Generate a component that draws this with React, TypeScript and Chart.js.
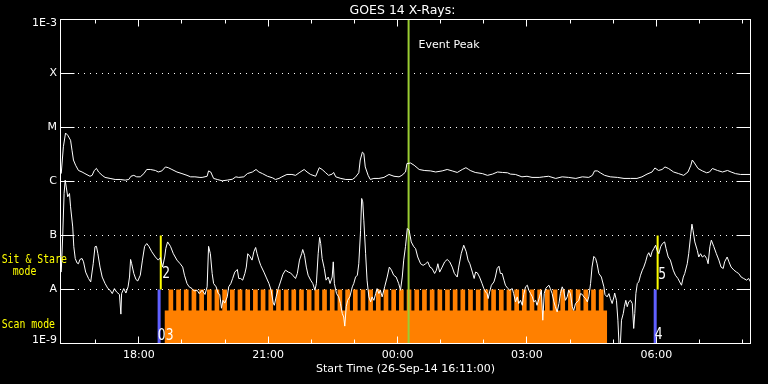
import React, { useEffect, useRef } from "react";
import { Chart, registerables } from "chart.js";

Chart.register(...registerables);

const chartTitle = "GOES 14 X-Rays:";
const xAxisTitle = "Start Time (26-Sep-14 16:11:00)";

// minutes after 16:11:00 UT, 26-Sep-14
const longMinutes = [
  1, 4, 7, 10, 14, 16, 18, 21, 25, 30,
  34, 41, 44, 47, 50, 53, 58, 62, 69, 76,
  83, 90, 95, 98, 102, 106, 111, 116, 120, 125,
  132, 136, 141, 146, 150, 155, 162, 169, 176, 181,
  187, 194,
  197, 204, 206, 209, 213, 218, 225, 232, 239, 244,
  248, 255, 260, 267, 272, 276, 281, 288, 295, 299,
  304, 308, 315, 322, 327, 332, 339, 343, 348, 355,
  360, 364, 369, 373, 378, 380,
  383, 390, 397, 406, 410, 415, 417, 420, 422, 424,
  428, 431, 436, 443, 450, 457, 464, 471, 475, 480,
  482, 487, 492, 499, 506, 515, 522, 531, 538, 545,
  552, 559, 564, 568,
  570, 577, 587, 594, 601, 608, 615, 622, 626, 633,
  642, 649, 656, 666, 672, 679, 689, 698, 707, 717,
  726, 735, 740, 743, 747, 751, 757,
  765, 775, 784, 793, 802, 809, 816, 823, 827, 832,
  837, 841, 846, 853, 860, 867, 873, 877, 879, 882,
  887, 893, 899, 903, 907, 914, 921, 928, 933, 939,
  946, 960,
];
// 1-8 Angstrom flux, W/m^2
const longFlux = [
  1.4e-6, 4.4e-6, 7.9e-6, 7.2e-6, 5.8e-6, 3.8e-6, 2.5e-6, 2.0e-6, 1.6e-6, 1.5e-6,
  1.4e-6, 1.25e-6, 1.3e-6, 1.6e-6, 1.75e-6, 1.5e-6, 1.3e-6, 1.19e-6, 1.14e-6, 1.09e-6,
  1.09e-6, 1.06e-6, 1.09e-6, 1.25e-6, 1.3e-6, 1.22e-6, 1.22e-6, 1.4e-6, 1.67e-6, 1.67e-6,
  1.6e-6, 1.5e-6, 1.57e-6, 1.86e-6, 1.8e-6, 1.67e-6, 1.5e-6, 1.4e-6, 1.3e-6, 1.22e-6,
  1.22e-6, 1.19e-6,
  1.19e-6, 1.25e-6, 1.57e-6, 1.5e-6, 1.14e-6, 1.09e-6, 1.03e-6, 1.06e-6, 1.1e-6, 1.22e-6,
  1.19e-6, 1.22e-6, 1.4e-6, 1.5e-6, 1.67e-6, 1.5e-6, 1.4e-6, 1.25e-6, 1.17e-6, 1.09e-6,
  1.14e-6, 1.22e-6, 1.35e-6, 1.35e-6, 1.3e-6, 1.45e-6, 1.67e-6, 1.5e-6, 1.35e-6, 1.25e-6,
  1.8e-6, 1.67e-6, 1.45e-6, 1.3e-6, 1.37e-6, 1.47e-6,
  1.22e-6, 1.14e-6, 1.09e-6, 1.09e-6, 1.19e-6, 1.45e-6, 2.5e-6, 3.5e-6, 3.3e-6, 1.86e-6,
  1.3e-6, 1.09e-6, 1.14e-6, 1.14e-6, 1.19e-6, 1.35e-6, 1.25e-6, 1.22e-6, 1.3e-6, 1.5e-6,
  2.15e-6, 2.2e-6, 2.0e-6, 1.67e-6, 1.6e-6, 1.57e-6, 1.5e-6, 1.57e-6, 1.67e-6, 1.57e-6,
  1.47e-6, 1.67e-6, 1.8e-6, 1.67e-6,
  1.6e-6, 1.47e-6, 1.4e-6, 1.3e-6, 1.37e-6, 1.5e-6, 1.47e-6, 1.45e-6, 1.37e-6, 1.35e-6,
  1.22e-6, 1.25e-6, 1.19e-6, 1.19e-6, 1.22e-6, 1.25e-6, 1.14e-6, 1.22e-6, 1.19e-6, 1.14e-6,
  1.22e-6, 1.19e-6, 1.3e-6, 1.57e-6, 1.57e-6, 1.45e-6, 1.3e-6,
  1.22e-6, 1.19e-6, 1.14e-6, 1.14e-6, 1.14e-6, 1.22e-6, 1.37e-6, 1.5e-6, 1.78e-6, 1.6e-6,
  1.67e-6, 1.86e-6, 1.74e-6, 1.5e-6, 1.4e-6, 1.3e-6, 1.5e-6, 2.0e-6, 2.5e-6, 2.2e-6,
  1.74e-6, 1.57e-6, 1.45e-6, 1.5e-6, 1.74e-6, 1.6e-6, 1.5e-6, 1.6e-6, 1.5e-6, 1.4e-6,
  1.35e-6, 1.35e-6,
];

const shortMinutes = [
  1, 3, 5, 6.5, 8, 10, 12.5, 14, 17, 18.5,
  20.5, 23, 25, 27, 30, 32, 35, 39, 42, 45.5,
  48, 50, 52, 55, 58, 62, 66, 69, 72, 75,
  78, 82, 84, 85, 88, 91, 94, 96, 97.5, 99,
  102, 105, 107.5, 111, 114, 117, 120, 123, 127, 132,
  136, 139, 142, 145, 146.5, 149, 153, 157, 162, 166.5,
  170, 172.5, 176, 179, 183, 186, 190, 193,
  197, 201, 204, 206, 208.5, 211, 213, 216.5, 219.5, 221.5,
  224, 226, 228.5, 232, 234, 237, 239.5, 242.5, 246, 248,
  250.5, 253.5, 256.5, 258.5, 260.5, 263.5, 266.5, 269, 271.5, 273.5,
  276, 278.5, 283, 286, 290, 293, 296, 297.5, 300, 303,
  306, 309.5, 313, 317, 320, 323, 327, 329.5, 332.5, 335.5,
  337, 339.5, 342, 344.5, 348, 351, 354, 356, 358.5, 360.5,
  362, 364, 367, 369.5, 372.5, 375, 378, 379.5, 381,
  384, 387, 389.5, 392, 394, 395.5, 397.5, 399.5, 402.5, 406,
  408, 410.5, 413, 415, 417.5, 419, 420.5, 422, 424.5, 426.5,
  429, 431.5, 433.5, 436, 438.5, 440.5, 443, 445, 447.5, 451,
  454.5, 457.5, 460.5, 463.5, 467, 470.5, 473, 475.5, 477.5, 480,
  482.5, 485, 488, 491.5, 494, 497, 501, 504.5, 508, 511,
  514, 517, 520.5, 523, 525, 527.5, 531, 534.5, 538, 541.5,
  545, 548, 552, 554, 557.5, 561, 564.5, 567, 569.5,
  573, 575.5, 577.5, 580, 583, 586.5, 589, 591.5, 593.5, 595,
  597, 599.5, 603, 605, 607.5, 610, 612, 614.5, 617, 619,
  622.5, 625, 628.5, 630.5, 633, 635.5, 637.5, 640, 642.5, 644.5,
  647, 649.5, 651.5, 654, 656.5, 658.5, 661, 663, 666.5, 669,
  671, 673, 675, 677, 679.5, 681.5, 684, 686.5, 688.5, 691,
  693.5, 695.5, 698, 700, 702.5, 705, 707, 709.5, 712, 714,
  716.5, 719, 721, 723.5, 726, 728, 730.5, 733, 735, 737.5,
  739.5, 742, 744.5, 746.5, 749, 752.5, 756, 757.5,
  760.5, 763, 765, 767.5, 770, 771, 773.5, 775.5, 777, 779,
  780.5, 783, 784.5, 786.5, 788.5, 790.5, 793, 795.5, 797.5, 799,
  800.5, 802.5, 804.5, 807, 809.5, 811.5, 814, 816.5, 818.5, 821,
  823, 825.5, 828, 830, 832.5, 835, 837.5, 840.5, 842.5, 845.5,
  848.5, 852.5, 855.5, 859, 861.5, 864, 866.5, 868.5, 872, 874,
  876.5, 878.5, 880, 882.5, 886, 888, 890.5, 893, 896, 899,
  901, 903.5, 905.5, 909, 912.5, 916, 919, 922, 924, 927.5,
  930, 933, 937, 940.5, 943.5, 947, 950.5, 954.5, 957.5, 960,
];
// 0.5-4 Angstrom flux, W/m^2
const shortFlux = [
  2.1e-8, 9.4e-8, 6.0e-7, 1.06e-6, 7.9e-7, 5.2e-7, 6.0e-7, 3.4e-7, 1.44e-7, 6.2e-8,
  3.75e-8, 3.1e-8, 3.0e-8, 3.6e-8, 3.75e-8, 3.25e-8, 2.1e-8, 1.6e-8, 1.38e-8, 3.0e-8,
  6.2e-8, 6.3e-8, 4.6e-8, 2.6e-8, 1.7e-8, 1.29e-8, 1.04e-8, 9.7e-9, 8.4e-9, 1.04e-8,
  9.0e-9, 8.1e-9, 3.5e-9, 8.4e-9, 1.04e-8, 8.6e-9, 1.12e-8, 1.7e-8, 3.6e-8, 3.0e-8,
  1.98e-8, 1.53e-8, 1.44e-8, 1.84e-8, 3.5e-8, 6.3e-8, 7.1e-8, 6.3e-8, 5.0e-8, 4.0e-8,
  3.5e-8, 3.9e-8, 2.6e-8, 4.0e-8, 5.75e-8, 7.6e-8, 6.3e-8, 4.6e-8, 3.5e-8, 3.0e-8,
  2.6e-8, 1.84e-8, 1.29e-8, 1.12e-8, 1.04e-8, 9.4e-9, 9.7e-9, 8.4e-9,
  9.7e-9, 8.1e-9, 1.12e-8, 6.3e-8, 4.6e-8, 1.98e-8, 1.29e-8, 1.12e-8, 8.4e-9, 8.1e-9,
  4.5e-9, 6.3e-9, 5.6e-9, 7.3e-9, 1.12e-8, 1.29e-8, 1.6e-8, 2.1e-8, 2.35e-8, 1.6e-8,
  1.6e-8, 1.49e-8, 1.98e-8, 2.6e-8, 4.6e-8, 4.1e-8, 3.5e-8, 5.0e-8, 6.0e-8, 4.6e-8,
  3.5e-8, 2.8e-8, 2.1e-8, 1.7e-8, 1.29e-8, 9.7e-9, 5.6e-9, 5.1e-9, 7.3e-9, 1.04e-8,
  1.38e-8, 1.92e-8, 2.28e-8, 2.1e-8, 2.03e-8, 1.84e-8, 1.6e-8, 1.98e-8, 3.5e-8, 4.6e-8,
  5.5e-8, 4.3e-8, 2.6e-8, 1.84e-8, 1.49e-8, 1.29e-8, 9.7e-9, 1.29e-8, 4.6e-8, 9.2e-8,
  7.1e-8, 3.75e-8, 2.45e-8, 1.49e-8, 1.7e-8, 1.29e-8, 1.7e-8, 3.25e-8, 1.3e-8,
  8.4e-9, 7.3e-9, 5.5e-9, 3.6e-9, 3.1e-9, 2.1e-9, 4.8e-9, 6.3e-9, 7.3e-9, 1.12e-8,
  1.29e-8, 1.7e-8, 1.84e-8, 3.0e-8, 1.25e-7, 4.85e-7, 4.2e-7, 1.92e-7, 4.6e-8, 1.49e-8,
  7.3e-9, 5.9e-9, 7.3e-9, 6.3e-9, 8.4e-9, 1.04e-8, 8.4e-9, 9.7e-9, 7.3e-9, 1.12e-8,
  1.7e-8, 2.6e-8, 2.28e-8, 1.84e-8, 1.7e-8, 1.29e-8, 9.7e-9, 1.7e-8, 3.5e-8, 6.3e-8,
  1.35e-7, 1.25e-7, 7.6e-8, 6.2e-8, 5.75e-8, 4.0e-8, 3.0e-8, 2.8e-8, 3.0e-8, 3.25e-8,
  2.6e-8, 2.45e-8, 1.98e-8, 2.28e-8, 3.0e-8, 2.1e-8, 2.6e-8, 3.25e-8, 3.6e-8, 3.25e-8,
  2.6e-8, 1.98e-8, 1.7e-8, 2.6e-8, 4.6e-8, 6.6e-8, 5.0e-8, 3.5e-8, 3.0e-8,
  2.1e-8, 1.6e-8, 2.1e-8, 2.03e-8, 1.7e-8, 1.29e-8, 1.04e-8, 9.0e-9, 8.4e-9, 6.8e-9,
  9.0e-9, 1.2e-8, 1.38e-8, 1.7e-8, 2.45e-8, 2.7e-8, 1.98e-8, 1.98e-8, 1.49e-8, 1.2e-8,
  1.04e-8, 9.7e-9, 1.04e-8, 8.4e-9, 5.9e-9, 7.3e-9, 5.5e-9, 6.3e-9, 5.1e-9, 8.1e-9,
  1.12e-8, 1.2e-8, 9.7e-9, 8.4e-9, 7.3e-9, 5.9e-9, 6.3e-9, 5.1e-9, 7.3e-9, 9.7e-9,
  2.7e-9, 8.4e-9, 1.04e-8, 1.12e-8, 1.2e-8, 1.04e-8, 8.4e-9, 5.9e-9, 4.8e-9, 3.85e-9,
  5.5e-9, 8.4e-9, 1.12e-8, 9.7e-9, 6.3e-9, 7.3e-9, 9.7e-9, 8.4e-9, 4.8e-9, 4.1e-9,
  5.5e-9, 5.9e-9, 6.3e-9, 8.4e-9, 8.1e-9, 7.3e-9, 6.8e-9, 5.9e-9, 7.3e-9, 1.29e-8,
  2.6e-8, 4.1e-8, 3.75e-8, 3.0e-8, 1.98e-8, 1.7e-8, 1.12e-8, 8.1e-9,
  7.3e-9, 8.4e-9, 6.8e-9, 5.5e-9, 7.3e-9, 8.6e-9, 6.3e-9, 2.7e-9, 1.0e-9, 1.0e-9,
  2.7e-9, 3.6e-9, 4.8e-9, 6.3e-9, 4.8e-9, 5.9e-9, 6.3e-9, 5.5e-9, 1.9e-9, 3.6e-9,
  8.4e-9, 1.29e-8, 1.38e-8, 1.84e-8, 2.28e-8, 2.6e-8, 3.25e-8, 4.3e-8, 4.8e-8, 4.0e-8,
  5.0e-8, 5.75e-8, 6.6e-8, 5.3e-8, 4.6e-8, 6.2e-8, 7.1e-8, 7.6e-8, 5.75e-8, 4.0e-8,
  3.5e-8, 2.28e-8, 1.84e-8, 1.6e-8, 1.38e-8, 1.2e-8, 1.7e-8, 1.98e-8, 3.0e-8, 4.6e-8,
  9.4e-8, 1.62e-7, 1.25e-7, 7.6e-8, 5.3e-8, 4.0e-8, 4.6e-8, 4.0e-8, 4.3e-8, 3.75e-8,
  3.0e-8, 6.2e-8, 8.2e-8, 6.2e-8, 4.6e-8, 3.5e-8, 2.6e-8, 2.45e-8, 3.25e-8, 4.0e-8,
  3.25e-8, 2.6e-8, 2.28e-8, 2.1e-8, 1.98e-8, 1.7e-8, 1.6e-8, 1.49e-8, 1.6e-8, 1.38e-8,
];

// time axis
const hourTickMinutes = [49, 109, 169, 229, 289, 349, 409, 469, 529, 589, 649, 709, 769, 829, 889, 949];
const labelTickMinutes = [109, 289, 469, 649, 829];
const labelTickText = ["18:00", "21:00", "00:00", "03:00", "06:00"];

// flux axis
const levelValues = [1e-9, 1e-8, 1e-7, 1e-6, 1e-5, 1e-4, 1e-3];
const levelLabels = ["1E-9", "A", "B", "C", "M", "X", "1E-3"];

// observation markers
const eventPeakMinute = 484.3;
const eventPeakLabel = "Event Peak";
const sitStareMinutes = [139.5, 830.8];
const sitStareNames = ["2", "5"];
const scanMarkMinutes = [137.2, 827.4];
const scanMarkNames = ["03", "4"];

// scan-mode coverage
const scanBlockStart = 144.7;
const scanBlockEnd = 760.6;
const scanBaseFlux = 4.1e-9;
const scanTopFlux = 1e-8;
const scanToothMinutes = 6.5;
const scanToothStarts = [
  150.3, 161.0, 171.7, 182.4, 193.1, 203.8, 214.4, 225.1, 235.8, 246.5,
  257.2, 267.9, 278.6, 289.3, 300.0, 310.7, 321.3, 332.0, 342.7, 353.4,
  364.1, 374.8, 385.5, 396.2, 406.9, 417.6, 428.2, 438.9, 449.6, 460.3,
  471.0, 481.7, 492.4, 503.1, 513.8, 524.5, 535.1, 545.8, 556.5, 567.2,
  577.9, 588.6, 599.3, 610.0, 620.7, 631.4, 642.0, 652.7, 663.4, 674.1,
  684.8, 695.5, 706.2, 716.9, 727.6, 738.3, 749.0,
];

const FONT = "'DejaVu Sans', sans-serif";
const MONO = "'DejaVu Sans Mono', monospace";

const goesDecor = {
  id: "goesDecor",
  beforeDatasetsDraw(chart: any) {
    const { ctx, chartArea: a, scales } = chart;
    const y = scales.y;
    ctx.save();
    ctx.strokeStyle = "#ffffff";
    ctx.lineWidth = 1;
    ctx.setLineDash([1, 5]);
    for (let i = 1; i < levelValues.length - 1; i++) {
      const py = Math.floor(y.getPixelForValue(levelValues[i])) + 0.5;
      ctx.beginPath();
      ctx.moveTo(a.left + 17.5, py);
      ctx.lineTo(a.right - 14, py);
      ctx.stroke();
    }
    ctx.restore();
  },
  afterDatasetsDraw(chart: any) {
    const { ctx, chartArea: a, scales } = chart;
    const x = scales.x;
    const y = scales.y;
    ctx.save();
    ctx.strokeStyle = "#ffffff";
    ctx.lineWidth = 1;
    ctx.setLineDash([]);
    // frame
    ctx.strokeRect(a.left, a.top, a.right - a.left, a.bottom - a.top);
    // flux ticks (inward, both sides)
    ctx.beginPath();
    for (let i = 1; i < levelValues.length - 1; i++) {
      const py = Math.floor(y.getPixelForValue(levelValues[i])) + 0.5;
      ctx.moveTo(a.left, py);
      ctx.lineTo(a.left + 14, py);
      ctx.moveTo(a.right - 14, py);
      ctx.lineTo(a.right, py);
    }
    // time ticks (inward, top and bottom)
    for (const m of hourTickMinutes) {
      const px = Math.floor(x.getPixelForValue(m)) + 0.5;
      const len = labelTickMinutes.includes(m) ? 7 : 4;
      ctx.moveTo(px, a.top);
      ctx.lineTo(px, a.top + len);
      ctx.moveTo(px, a.bottom);
      ctx.lineTo(px, a.bottom - len);
    }
    ctx.stroke();

    // flux level labels
    ctx.fillStyle = "#ffffff";
    ctx.font = `11px ${FONT}`;
    ctx.textAlign = "right";
    ctx.textBaseline = "middle";
    levelValues.forEach((v, i) => {
      let off = 0;
      if (i === 0) off = -3;
      if (i === levelValues.length - 1) off = 3.5;
      ctx.fillText(levelLabels[i], a.left - 3.5, y.getPixelForValue(v) + off);
    });

    // title
    ctx.textAlign = "center";
    ctx.textBaseline = "alphabetic";
    ctx.font = `12.5px ${FONT}`;
    ctx.fillText(chartTitle, (a.left + a.right) / 2 - 3, 14);

    // event peak label
    ctx.textAlign = "left";
    ctx.font = `11px ${FONT}`;
    ctx.fillText(eventPeakLabel, x.getPixelForValue(eventPeakMinute) + 10, a.top + 28);

    // observation numbers
    const yA = y.getPixelForValue(1e-8);
    const yBottom = y.getPixelForValue(1e-9);
    const drawNarrow = (t: string, px: number, py: number) => {
      ctx.save();
      ctx.translate(px, py);
      ctx.scale(0.82, 1);
      ctx.font = `15px ${FONT}`;
      ctx.fillText(t, 0, 0);
      ctx.restore();
    };
    drawNarrow(sitStareNames[0], x.getPixelForValue(sitStareMinutes[0]) + 1.5, yA - 12);
    drawNarrow(sitStareNames[1], x.getPixelForValue(sitStareMinutes[1]) + 0.5, yA - 11);
    drawNarrow(scanMarkNames[0], x.getPixelForValue(scanMarkMinutes[0]) - 1.3, yBottom - 4);
    drawNarrow(scanMarkNames[1], x.getPixelForValue(scanMarkMinutes[1]) - 0.5, yBottom - 5);

    // mode labels (left margin)
    ctx.fillStyle = "#ffff00";
    const drawMode = (t: string, px: number, py: number) => {
      ctx.save();
      ctx.translate(px, py);
      ctx.scale(0.82, 1);
      ctx.font = `12px ${MONO}`;
      ctx.fillText(t, 0, 0);
      ctx.restore();
    };
    drawMode("Sit & Stare", 1.7, 262.7);
    drawMode("mode", 12.7, 275);
    drawMode("Scan mode", 1.7, 328.3);
    ctx.restore();
  },
};

export default function App() {
  const ref = useRef<HTMLCanvasElement>(null);

  useEffect(() => {
    const canvas = ref.current;
    if (!canvas) return;
    const pts = (xs: number[], ys: number[]) => xs.map((m, i) => ({ x: m, y: ys[i] }));

    const scanPoints: { x: number; y: number }[] = [{ x: scanBlockStart, y: scanBaseFlux }];
    scanToothStarts.forEach((s) => {
      scanPoints.push({ x: s, y: scanTopFlux });
      scanPoints.push({ x: s + scanToothMinutes, y: scanBaseFlux });
    });
    scanPoints.push({ x: scanBlockEnd, y: scanBaseFlux });

    const vline = (m: number, lo: number, hi: number, color: string, w: number) => ({
      data: [
        { x: m, y: lo },
        { x: m, y: hi },
      ],
      borderColor: color,
      borderWidth: w,
      pointRadius: 0,
      fill: false,
    });

    const chart = new Chart(canvas, {
      type: "line",
      data: {
        datasets: [
          { data: pts(longMinutes, longFlux), borderColor: "#ffffff", borderWidth: 1, pointRadius: 0, tension: 0, fill: false },
          { data: pts(shortMinutes, shortFlux), borderColor: "#ffffff", borderWidth: 1, pointRadius: 0, tension: 0, fill: false },
          vline(eventPeakMinute, 1e-9, 1e-3, "#9acd32", 2),
          vline(sitStareMinutes[0], 1e-8, 1e-7, "#ffff00", 2),
          vline(sitStareMinutes[1], 1e-8, 1e-7, "#ffff00", 2),
          vline(scanMarkMinutes[0], 1e-9, 1e-8, "#6060ff", 3),
          vline(scanMarkMinutes[1], 1e-9, 1e-8, "#6060ff", 3),
          {
            data: scanPoints,
            stepped: true,
            borderWidth: 0,
            borderColor: "rgba(0,0,0,0)",
            backgroundColor: "#ff8000",
            fill: "start",
            pointRadius: 0,
          },
        ] as any,
      },
      options: {
        responsive: false,
        animation: false,
        events: [],
        layout: { padding: { top: 19.5, right: 17.5, left: 0, bottom: 0 } },
        plugins: {
          legend: { display: false },
          tooltip: { enabled: false },
          title: { display: false },
        },
        scales: {
          x: {
            type: "linear",
            min: 0,
            max: 960,
            grid: { display: false, drawTicks: false },
            border: { display: false },
            afterBuildTicks: (s: any) => {
              s.ticks = labelTickMinutes.map((v) => ({ value: v }));
            },
            ticks: {
              color: "#ffffff",
              font: { family: FONT, size: 11 },
              padding: 5.4,
              maxRotation: 0,
              autoSkip: false,
              callback: (_v: any, i: number) => labelTickText[i] ?? "",
            },
            title: {
              display: true,
              text: xAxisTitle,
              color: "#ffffff",
              font: { family: FONT, size: 11 },
              padding: { top: 0, bottom: 8.7 },
            },
            afterFit: (s: any) => {
              s.height = 40.5;
            },
          },
          y: {
            type: "logarithmic",
            min: 1e-9,
            max: 1e-3,
            ticks: { display: false },
            grid: { display: false, drawTicks: false },
            border: { display: false },
            afterFit: (s: any) => {
              s.width = 60.5;
            },
          },
        },
      } as any,
      plugins: [goesDecor],
    });
    return () => chart.destroy();
  }, []);

  return (
    <div style={{ position: "fixed", left: 0, top: 0, width: 768, height: 384, background: "#000000" }}>
      <canvas ref={ref} width={768} height={384} style={{ display: "block", width: 768, height: 384 }} />
    </div>
  );
}
